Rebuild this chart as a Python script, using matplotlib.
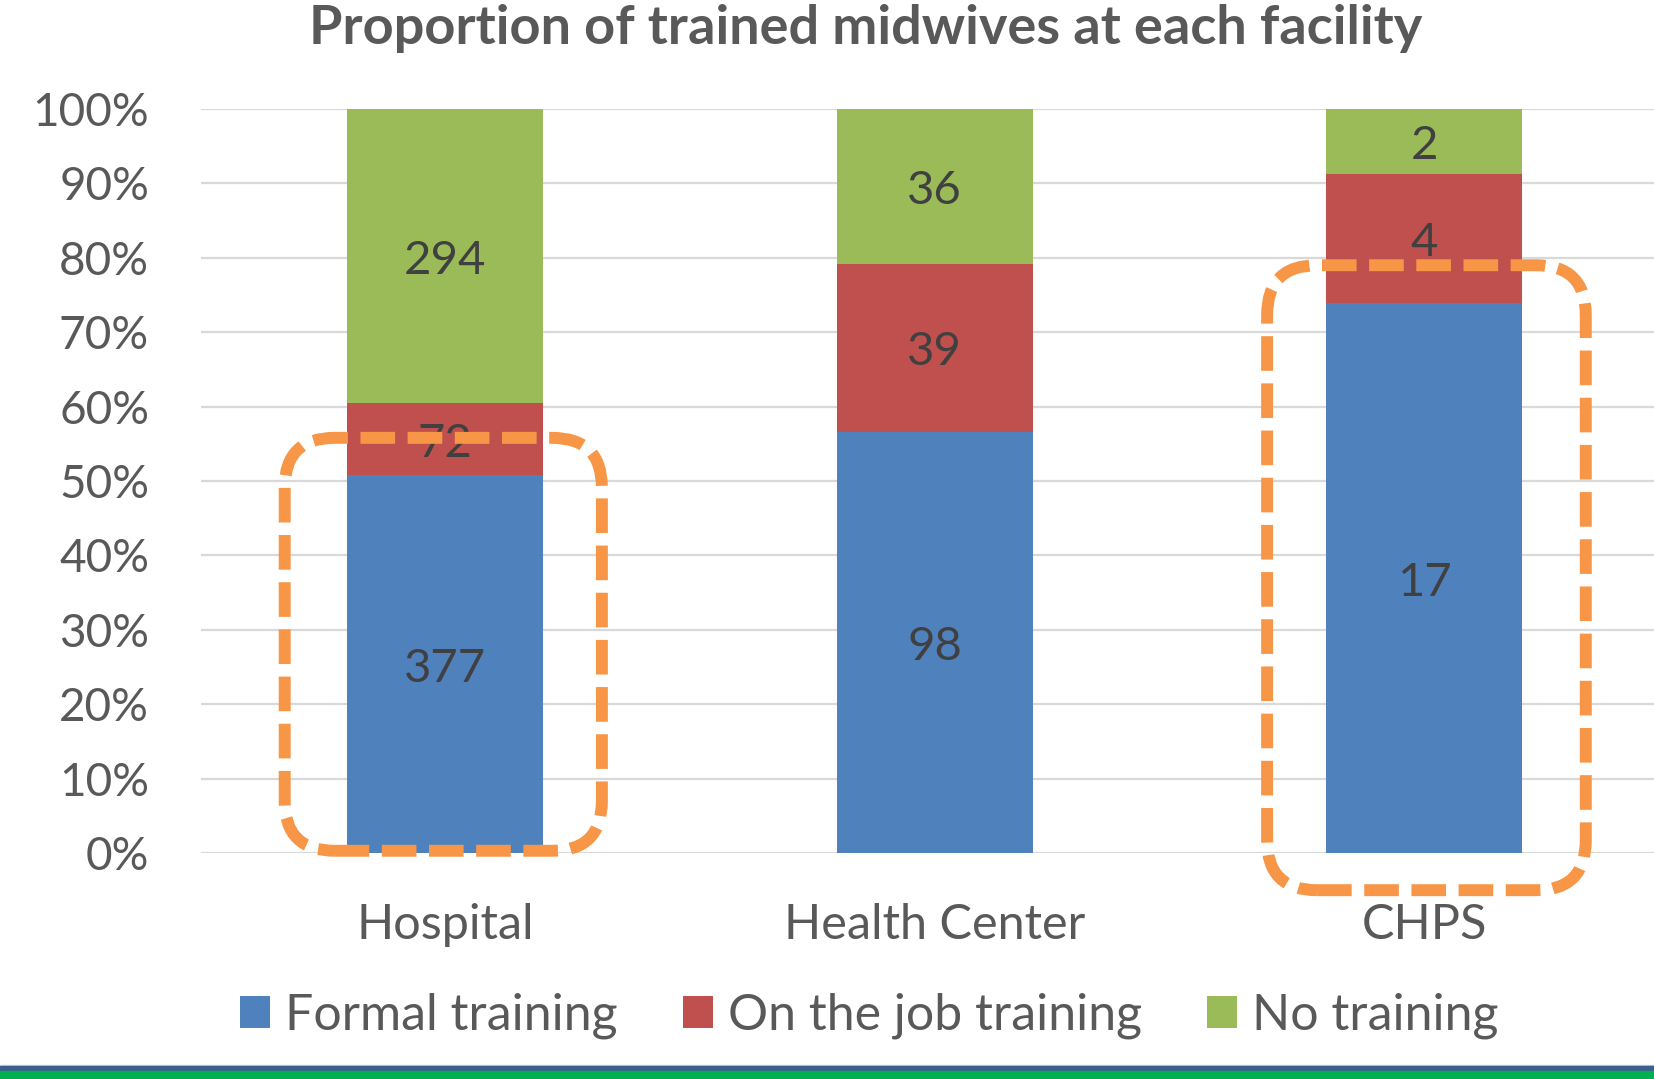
import matplotlib
matplotlib.use("Agg")
import matplotlib.pyplot as plt
import numpy as np
from matplotlib.patches import FancyBboxPatch, Rectangle

# Counts (shown as data labels)
categories = ["Hospital", "Health Center", "CHPS"]
formal = [377, 98, 17]
on_job = [72, 39, 4]
no_training = [294, 36, 2]
series_names = ["Formal training", "On the job training", "No training"]
colors = ["#4F81BD", "#C0504D", "#9BBB59"]
yticks = [0, 0.1, 0.2, 0.3, 0.4, 0.5, 0.6, 0.7, 0.8, 0.9, 1.0]
ytick_labels = ["0%", "10%", "20%", "30%", "40%", "50%", "60%", "70%", "80%", "90%", "100%"]

# highlight boxes (category index, x0, x1, y0, y1) in data units
highlights = [
    (0, -0.328, 0.320, 0.003, 0.558),
    (2, -0.321, 0.330, -0.050, 0.790),
]

plt.rcParams["font.family"] = ["Lato", "DejaVu Sans"]

W, H = 1654, 1079
fig = plt.figure(figsize=(W / 100, H / 100), dpi=100)
ax = fig.add_axes([200.5 / W, 1 - 853 / H, 1468.5 / W, 744 / H])

counts = np.array([formal, on_job, no_training], dtype=float)
shares = counts / counts.sum(axis=0)
x = np.arange(len(categories))

bottom = np.zeros(len(categories))
for name, share, cnt, col in zip(series_names, shares, counts, colors):
    ax.bar(x, share, width=0.4, bottom=bottom, color=col, label=name, zorder=2)
    for xi, b, s, c in zip(x, bottom, share, cnt):
        # small downward nudge so the digits sit like Excel's labels
        ax.text(xi, b + s / 2 - 0.006, f"{int(c)}", ha="center", va="center",
                fontsize=34, color="#404040", zorder=3)
    bottom += share

ax.set_xlim(-0.5, 2.5)
ax.set_ylim(0, 1)
ax.set_yticks(yticks)
ax.set_yticklabels(ytick_labels)
ax.set_xticks(x)
ax.set_xticklabels(categories)
ax.tick_params(axis="y", length=0, pad=37, labelsize=33, labelcolor="#595959")
ax.tick_params(axis="x", length=0, pad=36, labelsize=35, labelcolor="#595959")
ax.grid(axis="y", color="#D9D9D9", linewidth=1.6, zorder=0)
ax.set_axisbelow(True)
for sp in ax.spines.values():
    sp.set_visible(False)

# rounded dashed highlight boxes; keep the corners circular in pixels
p0 = ax.transData.transform((0, 0))
p1 = ax.transData.transform((1, 1))
aspect = (p1[0] - p0[0]) / (p1[1] - p0[1])
for ci, x0, x1, y0, y1 in highlights:
    box = FancyBboxPatch((ci + x0, y0), x1 - x0, y1 - y0,
                         boxstyle="round,pad=0,rounding_size=0.102",
                         mutation_aspect=aspect, fill=False,
                         edgecolor="#F79646", linewidth=8.6,
                         linestyle=(0, (2.9, 1.05)), clip_on=False, zorder=5)
    ax.add_patch(box)

fig.text(866 / W, 1 - 44 / H, "Proportion of trained midwives at each facility",
         ha="center", va="baseline", fontsize=39, fontweight="bold", color="#595959")

handles, labels = ax.get_legend_handles_labels()
fig.legend(handles, labels, loc="center", bbox_to_anchor=(869 / W, 1 - 1016 / H),
           ncol=3, frameon=False, fontsize=36, labelcolor="#595959",
           handlelength=0.6, handleheight=0.6, handletextpad=0.3,
           columnspacing=1.3, borderaxespad=0)

# footer stripes
fig.patches.append(Rectangle((0, 1 - 1066 / H), 1, 1.5 / H, transform=fig.transFigure,
                             color="#C9D5E3", zorder=0))
fig.patches.append(Rectangle((0, 1 - 1071 / H), 1, 5 / H, transform=fig.transFigure,
                             color="#3A5F8C", zorder=0))
fig.patches.append(Rectangle((0, 0), 1, 8 / H, transform=fig.transFigure,
                             color="#00B050", zorder=0))

fig.savefig("out.png", dpi=100)
